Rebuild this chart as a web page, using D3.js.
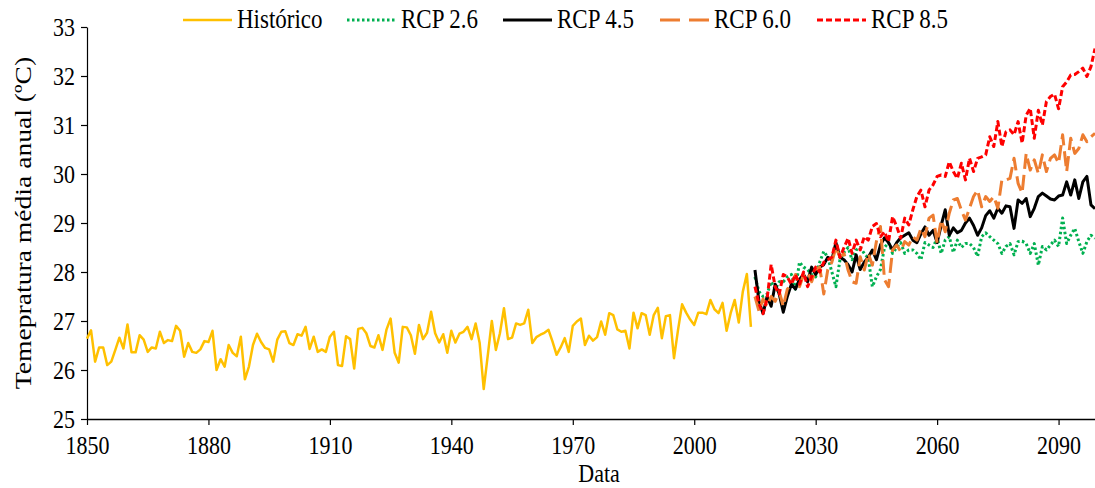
<!DOCTYPE html>
<html>
<head>
<meta charset="utf-8">
<script src="https://cdn.jsdelivr.net/npm/d3@7"></script>
<style>
  body { margin: 0; background: #fff; }
  text { font-family: "Liberation Serif", "Times New Roman", serif; fill: #000; }
</style>
</head>
<body>
<div id="chart"></div>
<script>
// --- Data ---
const histStart = 1850;
const historico = [
  26.64, 26.81, 26.17, 26.46, 26.46, 26.10, 26.17, 26.41, 26.66, 26.44,
  26.93, 26.36, 26.36, 26.71, 26.62, 26.37, 26.46, 26.44, 26.78, 26.55,
  26.61, 26.59, 26.90, 26.80, 26.27, 26.55, 26.37, 26.35, 26.42, 26.59,
  26.57, 26.80, 26.00, 26.22, 26.07, 26.51, 26.35, 26.28, 26.68, 25.81,
  26.07, 26.51, 26.74, 26.57, 26.45, 26.42, 26.17, 26.62, 26.78, 26.79,
  26.55, 26.51, 26.73, 26.70, 26.88, 26.43, 26.68, 26.37, 26.42, 26.37,
  26.68, 26.78, 26.10, 26.08, 26.69, 26.63, 26.03, 26.84, 26.86, 26.75,
  26.49, 26.46, 26.71, 26.41, 26.83, 27.05, 26.35, 26.15, 26.88, 26.87,
  26.71, 26.33, 26.92, 26.63, 26.76, 27.19, 26.75, 26.56, 26.73, 26.35,
  26.80, 26.56, 26.74, 26.78, 26.88, 26.63, 26.95, 26.55, 25.61, 26.30,
  27.00, 26.41, 26.75, 27.26, 26.63, 26.66, 26.95, 26.92, 26.95, 27.23,
  26.55, 26.67, 26.72, 26.76, 26.82, 26.58, 26.31, 26.46, 26.65, 26.37,
  26.90, 26.99, 27.05, 26.51, 26.70, 26.60, 26.67, 26.99, 26.72, 27.16,
  27.12, 26.83, 26.78, 26.80, 26.44, 27.17, 26.85, 27.16, 27.12, 26.72,
  27.12, 27.27, 26.65, 27.10, 27.12, 26.24, 26.82, 27.34, 27.17, 27.03,
  26.92, 27.17, 27.17, 27.14, 27.43, 27.24, 27.16, 27.37, 26.80, 27.16,
  27.43, 26.97, 27.60, 27.96, 26.88
];

const rcpStart = 2015;
const rcp26 = [
  27.90, 27.60, 27.50, 27.55, 27.80, 27.65, 27.80, 27.80, 27.90, 27.95,
  27.65, 28.20, 28.10, 28.05, 27.95, 27.90, 28.20, 28.42, 28.30, 28.00,
  27.70, 28.25, 28.40, 28.50, 28.25, 28.45, 28.50, 28.38, 28.28, 27.70,
  27.90, 28.05, 28.50, 28.60, 28.38, 28.50, 28.60, 28.38, 28.45, 28.45,
  28.38, 28.25, 28.60, 28.55, 28.50, 28.70, 28.38, 28.65, 28.72, 28.40,
  28.65, 28.50, 28.58, 28.58, 28.50, 28.32, 28.72, 28.80, 28.72, 28.65,
  28.58, 28.38, 28.52, 28.58, 28.35, 28.62, 28.63, 28.58, 28.38, 28.58,
  28.14, 28.52, 28.45, 28.55, 28.65, 28.52, 29.10, 28.58, 28.75, 28.89,
  28.62, 28.38, 28.62, 28.75, 28.69
];
const rcp45 = [
  28.04, 27.40, 27.15, 27.50, 27.30, 27.75, 27.55, 27.18, 27.50, 27.75,
  27.65, 27.85, 27.95, 27.80, 28.10, 27.95, 28.10, 28.15, 28.30, 28.25,
  28.60, 28.30, 28.25, 28.15, 28.00, 28.35, 28.05, 28.20, 28.30, 28.45,
  28.25, 28.55, 28.70, 28.60, 28.45, 28.60, 28.70, 28.75, 28.80, 28.65,
  28.60, 28.78, 28.92, 28.75, 28.85, 28.60, 28.95, 29.27, 28.75, 28.90,
  28.80, 28.85, 29.00, 29.10, 28.95, 28.75, 28.90, 29.15, 29.25, 29.10,
  29.30, 29.20, 29.35, 29.33, 28.89, 29.47, 29.40, 29.50, 29.13, 29.30,
  29.54, 29.61, 29.55, 29.49, 29.47, 29.55, 29.57, 29.84, 29.57, 29.88,
  29.50, 29.84, 29.95, 29.37, 29.29
];
const rcp60 = [
  27.50, 27.20, 27.45, 27.30, 27.50, 27.40, 27.60, 27.30, 27.65, 27.75,
  27.95, 27.70, 27.95, 28.00, 27.80, 28.05, 28.10, 27.55, 28.05, 28.20,
  28.50, 28.31, 28.38, 28.04, 27.80, 27.77, 28.31, 28.04, 28.38, 28.14,
  28.62, 28.93, 27.84, 27.70, 28.45, 28.55, 28.42, 28.62, 28.55, 28.72,
  28.65, 28.89, 28.72, 29.10, 29.16, 28.59, 29.06, 28.82, 29.20, 29.47,
  29.50, 29.26, 29.06, 29.30, 29.54, 29.67, 29.33, 29.54, 29.44, 29.54,
  29.30, 29.88, 29.88, 29.91, 30.32, 29.81, 29.61, 30.42, 30.08, 30.29,
  30.01, 30.39, 30.05, 30.32, 30.39, 30.22, 30.80, 30.05, 30.73, 30.42,
  30.52, 30.80, 30.66, 30.76, 30.83
];
const rcp85 = [
  27.70, 27.35, 27.15, 27.45, 28.15, 27.70, 27.55, 27.95, 27.90, 27.75,
  27.95, 27.75, 28.00, 27.70, 27.90, 28.10, 28.00, 28.20, 28.25, 28.30,
  28.65, 28.30, 28.50, 28.69, 28.38, 28.65, 28.45, 28.72, 28.65, 28.93,
  28.99, 28.72, 28.82, 28.62, 29.13, 28.93, 28.69, 29.10, 28.96, 29.27,
  29.54, 29.67, 29.33, 29.67, 29.78, 29.95, 29.98, 29.95, 30.25, 30.05,
  29.91, 30.22, 29.88, 30.32, 30.05, 30.32, 30.35, 30.39, 30.76, 30.56,
  31.07, 30.56, 30.86, 30.90, 30.80, 31.07, 30.63, 31.20, 31.34, 30.73,
  31.30, 31.00, 31.48, 31.58, 31.63, 31.33, 31.78, 31.88, 32.02, 32.03,
  32.09, 32.16, 31.99, 32.19, 32.56
];

const xTicks = [1850, 1880, 1910, 1940, 1970, 2000, 2030, 2060, 2090];
const yTicks = [25, 26, 27, 28, 29, 30, 31, 32, 33];

const seriesNames = ["Histórico", "RCP 2.6", "RCP 4.5", "RCP 6.0", "RCP 8.5"];

// series table for drawing (styles kept apart from the values)
const series = [
  { name: seriesNames[0], start: histStart, values: historico, color: "#FFC000", width: 2.5, dash: null },
  { name: seriesNames[1], start: rcpStart, values: rcp26, color: "#00B050", width: 3, dash: "2.5,2.5" },
  { name: seriesNames[2], start: rcpStart, values: rcp45, color: "#000000", width: 3, dash: null },
  { name: seriesNames[3], start: rcpStart, values: rcp60, color: "#ED7D31", width: 3, dash: "15,6" },
  { name: seriesNames[4], start: rcpStart, values: rcp85, color: "#FF0000", width: 3, dash: "6,3" }
];

// --- Chart dimensions ---
const W = 1095, H = 488;
const margin = { top: 27, right: 0, bottom: 69, left: 87 };
const width = W - margin.left - margin.right;
const height = H - margin.top - margin.bottom;
const sy = 1.15; // text in the reference is a bit tall for its width

const svg = d3.select("#chart")
  .append("svg")
  .attr("width", W)
  .attr("height", H);

const g = svg.append("g")
  .attr("transform", `translate(${margin.left},${margin.top})`);

// --- Scales ---
const x = d3.scaleLinear().domain([1850, 2099]).range([0, width]);
const y = d3.scaleLinear().domain([25, 33]).range([height, 0]);

// --- Axes ---
const xAxis = g.append("g")
  .attr("transform", `translate(0,${height})`)
  .call(d3.axisBottom(x).tickValues(xTicks).tickFormat(d3.format("d")).tickSize(6).tickSizeOuter(0));

xAxis.select(".domain").attr("stroke", "#000").attr("stroke-width", 1.6);
xAxis.selectAll(".tick line").attr("stroke", "#000").attr("stroke-width", 1.2);
xAxis.selectAll(".tick text")
  .attr("y", null).attr("dy", null)
  .attr("transform", `translate(0,35) scale(1,${sy})`)
  .style("font-size", "22px")
  .style("font-family", "Liberation Serif");

const yAxis = g.append("g")
  .call(d3.axisLeft(y).tickValues(yTicks).tickSize(6).tickSizeOuter(0));

yAxis.select(".domain").attr("stroke", "#000").attr("stroke-width", 1.2);
yAxis.selectAll(".tick line").attr("stroke", "#000").attr("stroke-width", 1.2);
yAxis.selectAll(".tick text")
  .attr("x", null).attr("dy", null)
  .attr("transform", `translate(-12,8) scale(1,${sy})`)
  .style("font-size", "22px")
  .style("font-family", "Liberation Serif");

// --- Axis labels ---
svg.append("text")
  .attr("transform", `translate(${margin.left + width / 2 + 8},482) scale(1,${sy})`)
  .attr("text-anchor", "middle")
  .style("font-size", "22px")
  .text("Data");

svg.append("text")
  .attr("transform", `translate(31,${margin.top + height / 2}) rotate(-90) scale(${sy},1)`)
  .attr("text-anchor", "middle")
  .style("font-size", "24px")
  .text("Temepratura média anual (ºC)");

// --- Lines ---
const line = d3.line()
  .x(d => x(d.year))
  .y(d => y(d.value));

series.forEach(s => {
  const pts = s.values.map((v, i) => ({ year: s.start + i, value: v }));
  g.append("path")
    .datum(pts)
    .attr("fill", "none")
    .attr("stroke", s.color)
    .attr("stroke-width", s.width)
    .attr("stroke-linejoin", "round")
    .attr("stroke-dasharray", s.dash)
    .attr("d", line);
});

// --- Legend ---
const legendX = [183, 347, 503, 660, 817];
const legend = svg.selectAll(".legend")
  .data(series)
  .enter()
  .append("g")
  .attr("class", "legend")
  .attr("transform", (d, i) => `translate(${legendX[i]},20)`);

legend.append("line")
  .attr("x1", 0).attr("x2", 49)
  .attr("y1", 0).attr("y2", 0)
  .attr("stroke", d => d.color)
  .attr("stroke-width", d => d.width)
  .attr("stroke-dasharray", (d, i) => i === 3 ? "20,9" : d.dash);

legend.append("text")
  .attr("transform", `translate(54,8) scale(1,${sy})`)
  .style("font-size", "23px")
  .text(d => d.name);
</script>
</body>
</html>
